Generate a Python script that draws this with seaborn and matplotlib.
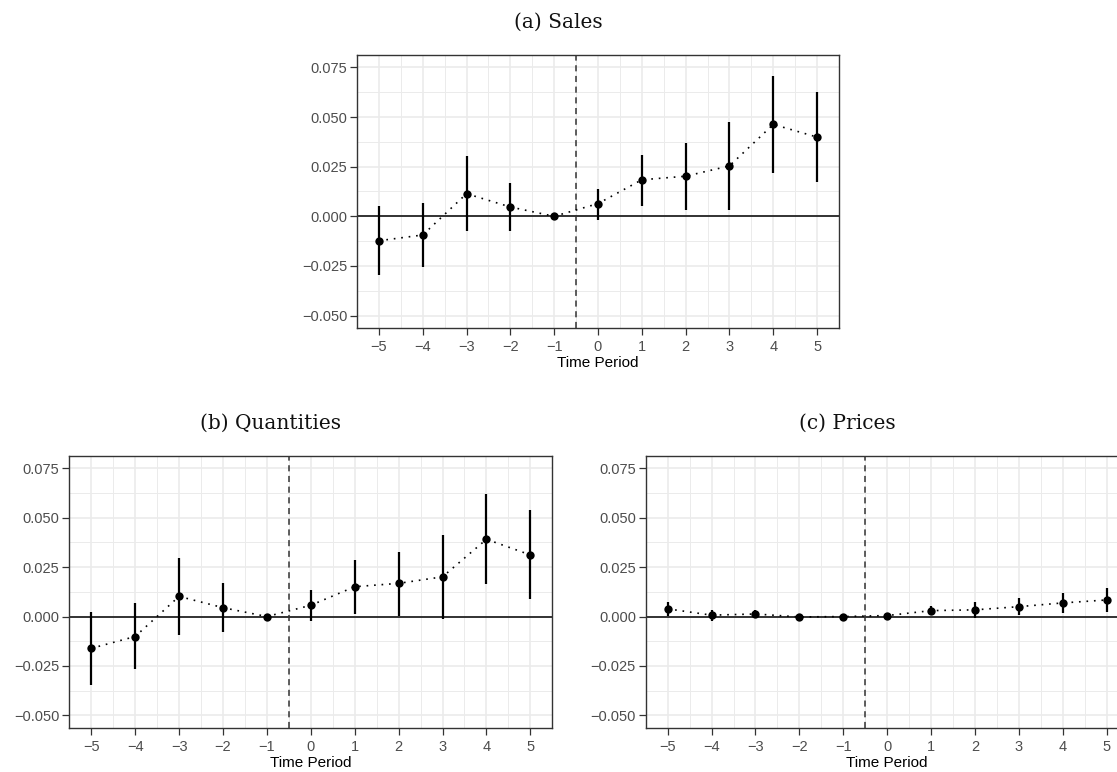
import numpy as np
import pandas as pd
import matplotlib
matplotlib.use("Agg")
import matplotlib.pyplot as plt
import seaborn as sns

# ---- data ----
periods = [-5, -4, -3, -2, -1, 0, 1, 2, 3, 4, 5]

sales_est = [-0.0123, -0.0094, 0.0114, 0.0047, 0.0, 0.0064, 0.0184, 0.0202, 0.0254, 0.0463, 0.0399]
sales_lo = [-0.0295, -0.0254, -0.0076, -0.0074, 0.0, -0.0017, 0.0052, 0.0034, 0.0032, 0.0217, 0.0173]
sales_hi = [0.0051, 0.0067, 0.0306, 0.0168, 0.0, 0.0140, 0.0311, 0.0367, 0.0475, 0.0707, 0.0625]

qty_est = [-0.0161, -0.0101, 0.0102, 0.0045, 0.0, 0.0057, 0.0151, 0.0168, 0.0201, 0.0391, 0.0312]
qty_lo = [-0.0347, -0.0267, -0.0091, -0.0076, 0.0, -0.0022, 0.0015, 0.0003, -0.0010, 0.0163, 0.0089]
qty_hi = [0.0022, 0.0067, 0.0294, 0.0169, 0.0, 0.0134, 0.0287, 0.0329, 0.0413, 0.0619, 0.0537]

price_est = [0.0039, 0.0007, 0.0013, -0.0002, 0.0, 0.0005, 0.0030, 0.0034, 0.0050, 0.0069, 0.0084]
price_lo = [0.0005, -0.0022, -0.0005, -0.0007, 0.0, 0.0, 0.0007, -0.0008, 0.0007, 0.0017, 0.0022]
price_hi = [0.0074, 0.0034, 0.0034, 0.0003, 0.0, 0.0010, 0.0054, 0.0074, 0.0092, 0.0119, 0.0146]

titles = ["(a) Sales", "(b) Quantities", "(c) Prices"]
y_ticks = [-0.050, -0.025, 0.000, 0.025, 0.050, 0.075]
y_ticklabels = ["\u22120.050", "\u22120.025", "0.000", "0.025", "0.050", "0.075"]
x_ticklabels = [("\u2212" + str(-p)) if p < 0 else str(p) for p in periods]
x_label = "Time Period"

# ---- style ----
sns.set_theme(style="whitegrid")
plt.rcParams["font.family"] = ["Liberation Sans", "DejaVu Sans"]

W, H = 1117, 772
fig = plt.figure(figsize=(W / 100, H / 100), dpi=100)

rects = [
    [357 / W, 1 - 328 / H, 482 / W, 273 / H],
    [69.3 / W, 1 - 727.7 / H, 483 / W, 271.7 / H],
    [645.7 / W, 1 - 727.7 / H, 483 / W, 271.7 / H],
]
title_pos = [(558 / W, 1 - 22 / H), (271 / W, 1 - 423 / H), (847 / W, 1 - 423 / H)]

series = [
    (sales_est, sales_lo, sales_hi),
    (qty_est, qty_lo, qty_hi),
    (price_est, price_lo, price_hi),
]

grid_c = "#ebebeb"
frame_c = "#333333"
tick_c = "#4d4d4d"

for rect, (est, lo, hi), title, tpos in zip(rects, series, titles, title_pos):
    ax = fig.add_axes(rect)
    df = pd.DataFrame({"period": periods, "est": est, "lo": lo, "hi": hi})
    ax.set_facecolor("white")

    # grid
    ax.set_xticks(periods)
    ax.set_xticks(np.arange(-4.5, 5.0, 1.0), minor=True)
    ax.set_yticks(y_ticks)
    ax.set_yticks(np.arange(-0.0625, 0.0876, 0.025), minor=True)
    ax.grid(True, which="major", color=grid_c, lw=1.2)
    ax.grid(True, which="minor", color=grid_c, lw=0.7)
    ax.set_axisbelow(True)

    ax.axhline(0, color="black", lw=1.1, zorder=2)
    ax.axvline(-0.5, color="#333333", lw=1.1, ls=(0, (4, 3)), zorder=2)

    ax.vlines(df["period"], df["lo"], df["hi"], color="black", lw=1.6, zorder=3)
    sns.lineplot(data=df, x="period", y="est", ax=ax, color="black", lw=1.2,
                 linestyle=(0, (1, 3.5)), zorder=3)
    sns.scatterplot(data=df, x="period", y="est", ax=ax, color="black", s=36,
                    edgecolor="black", linewidth=0, zorder=4)

    ax.set_xlim(-5.5, 5.5)
    ax.set_ylim(-0.05625, 0.08125)
    ax.set_xticklabels(x_ticklabels)
    ax.set_yticklabels(y_ticklabels)
    ax.set_xlabel(x_label, fontsize=11, color="black", labelpad=1)
    ax.set_ylabel("")
    ax.tick_params(axis="both", which="major", length=5, width=0.9, color=frame_c,
                   labelcolor=tick_c, labelsize=10.5, bottom=True, left=True)
    ax.tick_params(axis="x", which="major", pad=4)
    ax.tick_params(axis="y", which="major", pad=2)
    ax.tick_params(axis="both", which="minor", length=0)
    for s in ax.spines.values():
        s.set_color(frame_c)
        s.set_linewidth(1.0)
        s.set_visible(True)

    fig.text(tpos[0], tpos[1], title, ha="center", va="center",
             fontsize=14.5, family="DejaVu Serif", color="#111111")

fig.savefig("out.png", dpi=100)
